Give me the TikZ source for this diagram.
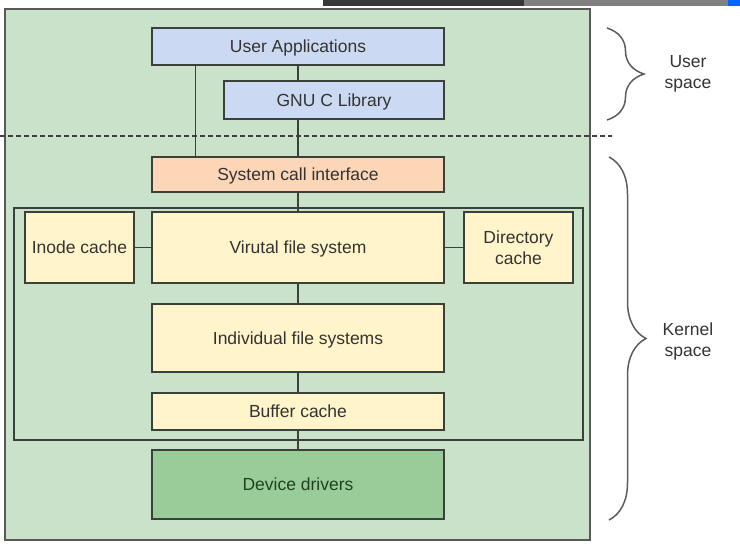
\documentclass[tikz,border=0pt]{standalone}
\usepackage{fontspec}
\setmainfont{Liberation Sans}
\usetikzlibrary{calc,decorations.pathreplacing}
\definecolor{panelgreen}{RGB}{201,226,201}
\definecolor{userblue}{RGB}{203,218,242}
\definecolor{callpeach}{RGB}{252,214,182}
\definecolor{fsyellow}{RGB}{255,244,202}
\definecolor{drivergreen}{RGB}{153,204,153}
\definecolor{edgegray}{RGB}{58,64,58}
\definecolor{txtgray}{RGB}{51,51,51}
\definecolor{drivertxt}{RGB}{32,66,32}

\begin{document}
\begin{tikzpicture}[x=1pt,y=-1pt,
  box/.style={draw=edgegray, line width=1.6pt, minimum width=292pt, inner sep=0pt,
    text=txtgray, align=center, text depth=0pt, font=\fontsize{17.5}{20.5}\selectfont},
  link/.style={draw=edgegray, line width=1.6pt},
  sidebrace/.style={draw=txtgray!80, line width=1.5pt,
    decorate, decoration={brace, amplitude=37pt}},
  sidelabel/.style={text=txtgray, align=center, font=\fontsize{17.5}{21}\selectfont}]
  \useasboundingbox (0,0) rectangle (740,558);
  % screen bar at the top
  \fill[black!78] (323,0) rectangle (524,6);
  \fill[black!50] (524,0) rectangle (728,6);
  \fill[blue!60!cyan] (728,0) rectangle (740,6);
  % panel
  \draw[fill=panelgreen, draw=black!65, line width=1.6pt] (5,9) rectangle (590,540);
  \draw[black!75, line width=1.5pt, dash pattern=on 5pt off 3pt] (0,136) -- (612,136);
  \draw[edgegray, line width=1.6pt] (14,208) rectangle (583,440);
  % user space
  \node[box, fill=userblue, minimum height=37pt] (apps) at (298,46.5) {User Applications};
  \node[box, fill=userblue, minimum width=220pt, minimum height=38pt] (glibc) at (334,100) {GNU C Library};
  % kernel space
  \node[box, fill=callpeach, minimum height=35pt] (sci) at (298,174.5) {System call interface};
  \node[box, fill=fsyellow, minimum height=71pt] (vfs) at (298,247.5) {Virutal file system};
  \node[box, fill=fsyellow, minimum width=109pt, minimum height=71pt] (inode) at (79.5,247.5) {Inode cache};
  \node[box, fill=fsyellow, minimum width=109pt, minimum height=71pt] (dentry) at (518.5,247.5) {Directory\\cache};
  \node[box, fill=fsyellow, minimum height=68pt] (ifs) at (298,338) {Individual file systems};
  \node[box, fill=fsyellow, minimum height=37pt] (bcache) at (298,411.5) {Buffer cache};
  \node[box, fill=drivergreen, minimum height=69pt, text=drivertxt] (drivers) at (298,484.5) {Device drivers};
  % connectors
  \draw[link] ($(apps.south west)!0.151!(apps.south east)$) -- ($(sci.north west)!0.151!(sci.north east)$);
  \draw[link] (apps.south) -- (apps.south |- glibc.north);
  \draw[link] (sci.north |- glibc.south) -- (sci.north);
  \draw[link] (sci) -- (vfs);
  \draw[link] (inode) -- (vfs);
  \draw[link] (vfs) -- (dentry);
  \draw[link] (vfs) -- (ifs);
  \draw[link] (ifs) -- (bcache);
  \draw[link] (bcache) -- (drivers);
  % braces
  \draw[sidebrace] (607,28) -- (607,120);
  \draw[sidebrace] (609,157) -- (609,520);
  \node[sidelabel] (userlbl) at (688,74) {User\\space};
  \node[sidelabel] (kernlbl) at (688,341) {Kernel\\space};
\end{tikzpicture}
\end{document}
